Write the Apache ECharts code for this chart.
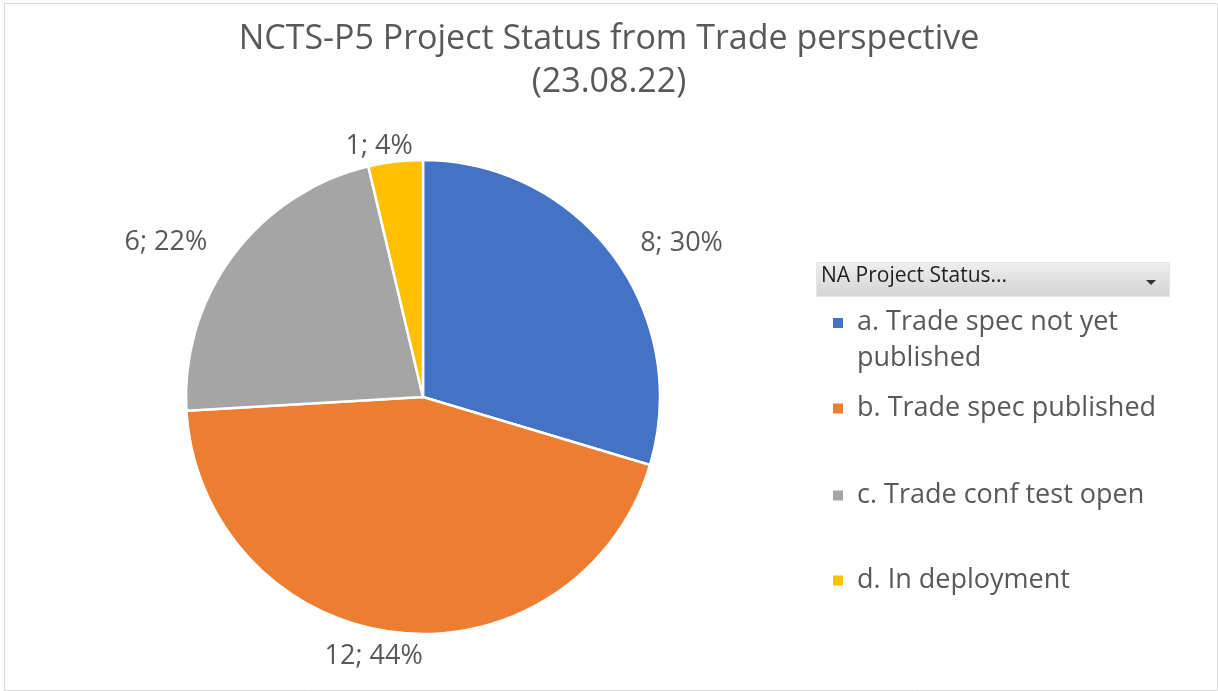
<!DOCTYPE html>
<html>
<head>
<meta charset="utf-8">
<script src="https://cdn.jsdelivr.net/npm/echarts@6/dist/echarts.min.js"></script>
<style>
  html, body { margin: 0; padding: 0; background: #ffffff; }
  #chart { width: 1218px; height: 691px; }
</style>
</head>
<body>
<div id="chart"></div>
<script>
const titleText = 'NCTS-P5 Project Status from Trade perspective\n(23.08.22)';
const categories = ['a. Trade spec not yet published', 'b. Trade spec published', 'c. Trade conf test open', 'd. In deployment'];
const values = [8, 12, 6, 1];
const colors = ['#4472C4', '#ED7D31', '#A5A5A5', '#FFC000'];
const legendHeader = 'NA Project Status...';

const FONT = '"Open Sans", "Noto Sans", sans-serif';
const GRAY = '#595959';
const legendTops = [304.5, 390.5, 477.5, 562.5];
// label offsets (style only) per slice
const labelLen = [20, 24, 22, 15];
const labelLen2 = [6, -35, 3, -24];

const chart = echarts.init(document.getElementById('chart'), null, { renderer: 'canvas' });

const legends = categories.map((name, i) => ({
  orient: 'vertical',
  left: 833,
  top: legendTops[i],
  padding: 0,
  itemWidth: 10,
  itemHeight: i === 0 ? 45 : 10,
  icon: i === 0 ? 'path://M0,0h10v10h-10z M0,45h10' : 'rect',
  itemStyle: { borderWidth: 0 },
  selectedMode: false,
  data: [name],
  formatter: n => (i === 0 ? 'a. Trade spec not yet\npublished' : n),
  textStyle: {
    color: GRAY,
    fontFamily: FONT,
    fontSize: 27,
    lineHeight: 36,
    padding: [0, 0, 0, 9]
  }
}));

const option = {
  backgroundColor: '#ffffff',
  animation: false,
  color: colors,
  title: {
    text: titleText,
    left: 'center',
    top: 13,
    textStyle: {
      color: GRAY,
      fontFamily: FONT,
      fontSize: 34,
      fontWeight: 'normal',
      lineHeight: 43
    }
  },
  legend: legends,
  graphic: [
    {
      type: 'rect',
      left: 2, top: 1,
      shape: { width: 1213, height: 687 },
      style: { fill: 'none', stroke: '#d9d9d9', lineWidth: 1 },
      silent: true
    },
    {
      type: 'rect',
      left: 816, top: 262,
      shape: { width: 353, height: 34 },
      style: {
        fill: new echarts.graphic.LinearGradient(0, 0, 0, 1, [
          { offset: 0, color: '#efefef' },
          { offset: 1, color: '#d3d3d3' }
        ]),
        stroke: '#e6e6e6', lineWidth: 1
      },
      silent: true
    },
    {
      type: 'text',
      left: 821, top: 266,
      style: { text: legendHeader, fill: '#1f1f1f', font: '21px "Open Sans", sans-serif' },
      silent: true
    },
    {
      type: 'polygon',
      shape: { points: [[1146, 280], [1156, 280], [1151, 285]] },
      style: { fill: '#333333' },
      silent: true
    }
  ],
  series: [{
    type: 'pie',
    center: [423, 397],
    radius: 237,
    startAngle: 90,
    clockwise: true,
    avoidLabelOverlap: false,
    itemStyle: { borderColor: '#ffffff', borderWidth: 2.5 },
    label: {
      show: true,
      position: 'outside',
      formatter: p => p.value + '; ' + Math.round(p.percent) + '%',
      color: GRAY,
      fontFamily: FONT,
      fontSize: 27,
      distanceToLabelLine: 5
    },
    labelLine: { show: false, length: 20, length2: 6 },
    emphasis: { disabled: true },
    data: categories.map((name, i) => ({
      name,
      value: values[i],
      labelLine: { length: labelLen[i], length2: labelLen2[i] }
    }))
  }]
};

chart.setOption(option);
</script>
</body>
</html>
